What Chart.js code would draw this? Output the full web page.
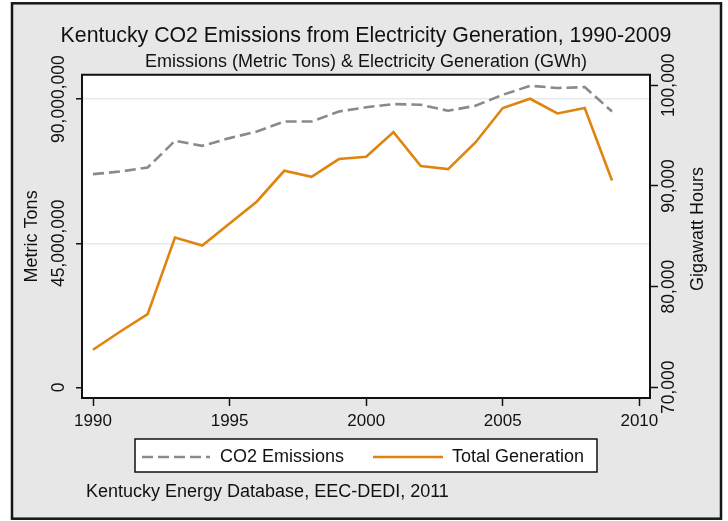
<!DOCTYPE html>
<html>
<head>
<meta charset="utf-8">
<script src="https://cdn.jsdelivr.net/npm/chart.js@4.4.1/dist/chart.umd.min.js"></script>
<style>
  html, body { margin: 0; padding: 0; background: #fff; }
  canvas { display: block; }
</style>
</head>
<body>
<canvas id="chart" width="728" height="521"></canvas>
<script>
// values
var years = [1990, 1991, 1992, 1993, 1994, 1995, 1996, 1997, 1998, 1999,
             2000, 2001, 2002, 2003, 2004, 2005, 2006, 2007, 2008, 2009];
var co2Emissions = [66580000, 67390000, 68640000, 76980000, 75420000, 77820000, 79880000, 83000000, 83000000, 86130000,
                    87440000, 88440000, 88220000, 86350000, 87910000, 91340000, 94150000, 93440000, 93750000, 86130000];
var totalGeneration = [73725, 75543, 77271, 84880, 84086, 86271, 88457, 91506, 90910, 92669,
                       92897, 95351, 91973, 91675, 94318, 97735, 98659, 97199, 97735, 90543];
var seriesLabels = ['CO2 Emissions', 'Total Generation'];
var xTicks = [1990, 1995, 2000, 2005, 2010];
var leftTicks = [0, 45000000, 90000000];
var rightTicks = [70000, 80000, 90000, 100000];

var FONT = "'Liberation Sans', Arial, sans-serif";
var INK = '#111';

function points(values) {
    return years.map(function (yr, i) { return { x: yr, y: values[i] }; });
}
function fixTicks(list) {
    return function (scale) {
        scale.ticks = list.map(function (v) { return { value: v }; });
    };
}

// frame, plot box, legend box and the source note (Stata style)
var stataLook = {
    id: 'stataLook',
    beforeDraw: function (chart) {
        var ctx = chart.ctx, a = chart.chartArea;
        ctx.save();
        ctx.fillStyle = '#fff';
        ctx.fillRect(0, 0, chart.width, chart.height);
        ctx.fillStyle = '#e7e7e7';
        ctx.fillRect(12, 3, 709, 516);
        ctx.lineWidth = 2.5;
        ctx.strokeStyle = '#161616';
        ctx.strokeRect(12, 3.3, 709, 515.4);
        ctx.fillStyle = '#fff';
        ctx.fillRect(a.left, a.top, a.right - a.left, a.bottom - a.top);
        ctx.restore();
    },
    afterDatasetsDraw: function (chart) {
        var ctx = chart.ctx, a = chart.chartArea;
        ctx.save();
        ctx.lineWidth = 2;
        ctx.strokeStyle = INK;
        ctx.strokeRect(a.left, a.top, a.right - a.left, a.bottom - a.top);
        ctx.restore();
    },
    afterDraw: function (chart) {
        var ctx = chart.ctx;
        ctx.save();
        // right axis title reads bottom to top like the left one
        ctx.fillStyle = INK;
        ctx.font = '18px ' + FONT;
        ctx.textAlign = 'center';
        ctx.textBaseline = 'alphabetic';
        ctx.translate(703, 229);
        ctx.rotate(-Math.PI / 2);
        ctx.fillText('Gigawatt Hours', 0, 0);
        ctx.setTransform(1, 0, 0, 1, 0, 0);

        // legend
        ctx.fillStyle = '#fff';
        ctx.fillRect(135, 439, 462, 33);
        ctx.lineWidth = 1.5;
        ctx.strokeStyle = INK;
        ctx.strokeRect(135, 439, 462, 33);
        var slots = [{ x0: 142, x1: 210, tx: 220 }, { x0: 373, x1: 443, tx: 452 }];
        chart.data.datasets.forEach(function (ds, i) {
            var s = slots[i];
            ctx.beginPath();
            ctx.setLineDash(ds.borderDash || []);
            ctx.lineWidth = ds.borderWidth;
            ctx.strokeStyle = ds.borderColor;
            ctx.moveTo(s.x0, 457);
            ctx.lineTo(s.x1, 457);
            ctx.stroke();
            ctx.setLineDash([]);
            ctx.fillStyle = INK;
            ctx.textAlign = 'left';
            ctx.fillText(ds.label, s.tx, 462);
        });

        // source note
        ctx.fillText('Kentucky Energy Database, EEC-DEDI, 2011', 86, 496.5);
        ctx.restore();
    }
};

var ctx = document.getElementById('chart').getContext('2d');
var chart = new Chart(ctx, {
    type: 'line',
    data: {
        datasets: [{
            label: seriesLabels[0],
            data: points(co2Emissions),
            yAxisID: 'y',
            borderColor: '#8a8a8a',
            borderWidth: 2.6,
            borderDash: [11, 5],
            pointRadius: 0,
            fill: false,
            tension: 0
        }, {
            label: seriesLabels[1],
            data: points(totalGeneration),
            yAxisID: 'y1',
            borderColor: '#e0840f',
            borderWidth: 2.6,
            pointRadius: 0,
            fill: false,
            tension: 0
        }]
    },
    options: {
        responsive: false,
        animation: false,
        devicePixelRatio: 1,
        events: [],
        layout: { padding: { top: 0, left: 4, right: 0, bottom: 83 } },
        plugins: {
            legend: { display: false },
            tooltip: { enabled: false },
            title: {
                display: true,
                text: 'Kentucky CO2 Emissions from Electricity Generation, 1990-2009',
                color: INK,
                font: { family: FONT, size: 21.3, weight: 'normal', lineHeight: 1.2 },
                padding: { top: 22.9, bottom: 0 }
            },
            subtitle: {
                display: true,
                text: 'Emissions (Metric Tons) & Electricity Generation (GWh)',
                color: INK,
                font: { family: FONT, size: 18, weight: 'normal', lineHeight: 1.2 },
                padding: { top: 2.5, bottom: 2.2 }
            }
        },
        scales: {
            x: {
                type: 'linear',
                position: 'bottom',
                min: 1989.597,
                max: 2010.39,
                afterBuildTicks: fixTicks(xTicks),
                afterFit: function (s) { s.height = 40; },
                border: { display: false },
                grid: { drawOnChartArea: false, tickLength: 8, tickColor: INK, tickWidth: 1.5, color: INK },
                ticks: {
                    autoSkip: false, maxRotation: 0, padding: 5.5, color: INK,
                    font: { family: FONT, size: 17 },
                    callback: function (v) { return String(v); }
                }
            },
            y: {
                type: 'linear',
                position: 'left',
                min: -3280000,
                max: 97590000,
                afterBuildTicks: fixTicks(leftTicks),
                afterFit: function (s) { s.width = 78; },
                border: { display: false },
                grid: {
                    color: function (c) { return c.tick && c.tick.value === 0 ? 'rgba(0,0,0,0)' : '#e6eaea'; },
                    lineWidth: 1.5, tickLength: 6, tickColor: INK, tickWidth: 1.5
                },
                ticks: {
                    minRotation: 90, maxRotation: 90, crossAlign: 'center', padding: -27,
                    color: INK, font: { family: FONT, size: 17.5 },
                    callback: function (v) { return v.toLocaleString('en-US'); }
                },
                title: {
                    display: true, text: 'Metric Tons', color: INK,
                    font: { family: FONT, size: 18, lineHeight: 1.2 },
                    padding: { top: 17.2, bottom: 0 }
                }
            },
            y1: {
                type: 'linear',
                position: 'right',
                min: 68937,
                max: 101043,
                afterBuildTicks: fixTicks(rightTicks),
                afterFit: function (s) { s.width = 78; },
                border: { display: false },
                grid: { drawOnChartArea: false, tickLength: 8, tickColor: INK, tickWidth: 1.5 },
                ticks: {
                    minRotation: 90, maxRotation: 90, crossAlign: 'center', padding: -20.6,
                    color: INK, font: { family: FONT, size: 17.5 },
                    callback: function (v) { return v.toLocaleString('en-US'); }
                }
            }
        }
    },
    plugins: [stataLook]
});
</script>
</body>
</html>
